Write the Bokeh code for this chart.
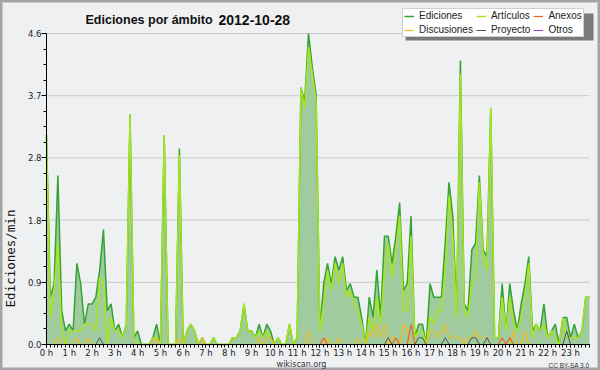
import math
from bokeh.plotting import figure
from bokeh.models import (FixedTicker, Legend, LegendItem, Label,
                          Range1d, ColumnDataSource)
from bokeh.embed import file_html
from bokeh.resources import INLINE

# ---------------- data (edits per minute, 10-minute bins) ----------------
STEP_MIN = 10
ediciones = [
    3.1, 0.7, 0.9, 2.5, 0.5, 0.2, 0.3, 0.2, 1.2, 0.9, 0.3, 0.6,
    0.6, 0.7, 1.1, 1.7, 0.5, 0.6, 0.2, 0.3, 0.1, 0.3, 3.4, 0.1,
    0.2, 0.0, 0.0, 0.0, 0.1, 0.3, 0.0, 3.1, 0.0, 0.0, 0.0, 2.9,
    0.0, 0.2, 0.3, 0.2, 0.0, 0.1, 0.0, 0.0, 0.1, 0.0, 0.0, 0.0,
    0.0, 0.1, 0.1, 0.2, 0.6, 0.2, 0.2, 0.1, 0.3, 0.1, 0.3, 0.2,
    0.0, 0.1, 0.0, 0.0, 0.3, 0.0, 0.1, 3.8, 3.6, 4.6, 4.1, 3.7,
    0.2, 0.9, 1.2, 0.9, 1.3, 1.1, 1.3, 0.8, 0.9, 0.7, 0.7, 0.4,
    0.0, 0.7, 0.4, 1.1, 0.4, 1.6, 1.6, 1.2, 1.6, 2.1, 0.8, 0.9,
    1.9, 0.1, 0.3, 0.3, 0.0, 0.9, 0.7, 0.7, 0.7, 1.5, 2.4, 1.9,
    0.5, 4.2, 0.6, 0.5, 1.4, 1.5, 2.5, 1.4, 1.3, 3.5, 0.1, 0.1,
    0.9, 0.2, 0.9, 0.5, 0.2, 0.6, 0.9, 1.3, 0.2, 0.3, 0.2, 0.6,
    0.1, 0.2, 0.3, 0.0, 0.4, 0.4, 0.1, 0.3, 0.1, 0.2, 0.7, 0.7,
]
articulos = [
    3.1, 0.4, 0.8, 1.5, 0.2, 0.0, 0.2, 0.2, 0.2, 0.2, 0.3, 0.3,
    0.3, 0.2, 1.0, 0.9, 0.0, 0.4, 0.2, 0.2, 0.1, 0.3, 3.4, 0.1,
    0.0, 0.0, 0.0, 0.0, 0.1, 0.1, 0.0, 3.1, 0.0, 0.0, 0.0, 2.8,
    0.0, 0.2, 0.3, 0.2, 0.0, 0.1, 0.0, 0.0, 0.1, 0.0, 0.0, 0.0,
    0.0, 0.1, 0.1, 0.2, 0.6, 0.2, 0.2, 0.1, 0.2, 0.1, 0.2, 0.1,
    0.0, 0.1, 0.0, 0.0, 0.3, 0.0, 0.1, 3.8, 3.5, 4.4, 4.0, 3.6,
    0.2, 0.6, 1.1, 0.8, 1.2, 0.9, 1.2, 0.7, 0.8, 0.6, 0.5, 0.3,
    0.0, 0.4, 0.2, 0.7, 0.3, 1.1, 1.5, 1.0, 1.4, 1.9, 0.5, 0.5,
    1.6, 0.1, 0.2, 0.2, 0.0, 0.4, 0.3, 0.5, 0.5, 1.1, 2.2, 1.6,
    0.4, 4.0, 0.5, 0.4, 0.9, 1.0, 2.4, 1.3, 1.1, 3.5, 0.1, 0.1,
    0.7, 0.2, 0.7, 0.3, 0.2, 0.4, 0.7, 1.2, 0.1, 0.3, 0.2, 0.3,
    0.1, 0.2, 0.1, 0.0, 0.4, 0.1, 0.1, 0.1, 0.1, 0.2, 0.7, 0.7,
]
discusiones = [
    0, 0, 0, 0.1, 0, 0, 0, 0, 0.1, 0, 0, 0.1,
    0, 0, 0, 0, 0, 0, 0, 0, 0, 0, 0, 0,
    0, 0, 0, 0, 0, 0.1, 0, 0, 0, 0, 0, 0.1,
    0, 0, 0, 0, 0, 0.1, 0, 0, 0, 0, 0, 0,
    0, 0, 0, 0, 0, 0, 0, 0, 0.1, 0, 0.1, 0.1,
    0, 0, 0, 0, 0, 0, 0, 0, 0, 0.2, 0, 0,
    0, 0, 0.1, 0, 0, 0.1, 0, 0, 0, 0, 0.1, 0,
    0, 0.2, 0.1, 0.3, 0.1, 0.3, 0, 0.1, 0.1, 0, 0.3, 0.2,
    0, 0, 0, 0, 0, 0.2, 0.2, 0.1, 0.2, 0.3, 0.1, 0.1,
    0.1, 0.1, 0, 0.1, 0.1, 0.2, 0.1, 0.1, 0.1, 0, 0, 0,
    0, 0, 0, 0.2, 0, 0, 0.2, 0, 0, 0, 0, 0,
    0, 0, 0, 0, 0, 0, 0, 0, 0, 0, 0, 0,
]
anexos = [
    0, 0, 0, 0, 0, 0, 0, 0, 0, 0, 0, 0,
    0, 0, 0, 0, 0, 0, 0, 0, 0, 0, 0, 0,
    0, 0, 0, 0, 0, 0, 0, 0, 0, 0, 0, 0,
    0, 0, 0, 0, 0, 0, 0, 0, 0, 0, 0, 0,
    0, 0, 0, 0, 0, 0, 0, 0, 0, 0, 0, 0,
    0, 0, 0, 0, 0, 0, 0, 0, 0, 0, 0, 0,
    0, 0.1, 0, 0, 0, 0, 0, 0, 0, 0, 0, 0,
    0, 0, 0, 0, 0, 0, 0, 0, 0.1, 0, 0, 0,
    0.3, 0, 0, 0, 0, 0, 0, 0, 0, 0, 0, 0,
    0, 0, 0, 0, 0, 0, 0, 0, 0, 0, 0, 0,
    0.1, 0, 0.1, 0, 0, 0, 0, 0, 0, 0, 0, 0,
    0, 0, 0, 0, 0, 0, 0, 0, 0, 0, 0, 0,
]
proyecto = [
    0, 0, 0, 0, 0, 0, 0, 0, 0, 0, 0, 0,
    0, 0, 0.1, 0, 0, 0, 0, 0, 0, 0, 0, 0,
    0, 0, 0, 0, 0, 0, 0, 0, 0, 0, 0, 0,
    0, 0, 0, 0, 0, 0, 0, 0, 0, 0, 0, 0,
    0, 0, 0, 0, 0, 0, 0, 0, 0, 0, 0, 0,
    0, 0, 0, 0, 0, 0, 0, 0, 0, 0, 0, 0,
    0, 0, 0, 0, 0, 0, 0, 0, 0, 0, 0, 0,
    0, 0, 0, 0, 0, 0, 0.1, 0, 0, 0, 0, 0,
    0, 0, 0.1, 0.1, 0, 0, 0, 0, 0, 0.1, 0, 0,
    0, 0, 0, 0, 0.1, 0.1, 0, 0, 0.1, 0, 0, 0,
    0, 0, 0, 0, 0, 0, 0, 0, 0, 0, 0, 0,
    0, 0, 0, 0, 0, 0.2, 0, 0, 0, 0, 0, 0,
]
otros = [0] * 144

hours = list(range(24))
hour_labels = [f"{h} h" for h in hours]
y_ticks = [0.0, 0.92, 1.84, 2.76, 3.68, 4.6]
y_tick_labels = ["0.0", "0.9", "1.8", "2.8", "3.7", "4.6"]

title_main = "Ediciones por ámbito"
title_date = "2012-10-28"

# ---------------- layout (canvas pixels) ----------------
W, H = 600, 370
PL, PR, PT, PB = 46, 589, 33, 344          # plotting area edges
BG = "#eff0f2"

x = [i * STEP_MIN / 60 for i in range(len(ediciones))]
XMAX = x[-1]
YMAX = y_ticks[-1]


def dx(px):
    return (px - PL) / (PR - PL) * XMAX


def dy(py):
    return (PB - py) / (PB - PT) * YMAX


p = figure(width=W, height=H, output_backend="svg", toolbar_location=None,
           x_range=Range1d(dx(0), dx(W)), y_range=Range1d(dy(H), dy(0)),
           min_border=0, min_border_left=0, min_border_right=0,
           min_border_top=0, min_border_bottom=0,
           background_fill_color=BG, border_fill_color=BG,
           outline_line_color="#a4a4a4", outline_line_width=4)

src = ColumnDataSource(dict(x=x, e=ediciones, a=articulos, d=discusiones,
                            anx=anexos, pr=proyecto, o=otros))

# horizontal grid lines at the y ticks, limited to the plotting area
p.segment(x0=0, x1=XMAX, y0=y_ticks[1:], y1=y_ticks[1:],
          line_color="#c9c9c9", line_width=1)

# legend drop shadow (drawn under the legend box)
p.quad(left=dx(405), right=dx(593), top=dy(13), bottom=dy(40),
       fill_color="#7a7a7a", line_color=None)

p.varea(x="x", y1=0, y2="e", source=src, fill_color="#9fcb9f")
r_e = p.line("x", "e", source=src, line_color="#33a333", line_width=1.5)
r_a = p.line("x", "a", source=src, line_color="#a8e61c", line_width=1.5)
r_o = p.line("x", "o", source=src, line_color="#9a40e0", line_width=1)
r_d = p.line("x", "d", source=src, line_color="#f0bc1c", line_width=1.2)
r_anx = p.line("x", "anx", source=src, line_color="#ee6622", line_width=1.2)
r_p = p.line("x", "pr", source=src, line_color="#505050", line_width=1)

# axes drawn at the data origin, taking no panel space
p.xaxis.fixed_location = 0
p.yaxis.fixed_location = 0
p.xaxis.bounds = (0, XMAX)
p.yaxis.bounds = (0, YMAX)
p.xaxis.ticker = FixedTicker(ticks=hours, minor_ticks=x)
p.xaxis.major_label_overrides = dict(zip(hours, hour_labels))
p.yaxis.ticker = FixedTicker(ticks=y_ticks,
                             minor_ticks=[k * YMAX / 20 for k in range(21)])
p.yaxis.major_label_overrides = dict(zip(y_ticks, y_tick_labels))
for ax in (p.xaxis, p.yaxis):
    ax.axis_line_color = "#000000"
    ax.major_tick_line_color = "#000000"
    ax.minor_tick_line_color = "#000000"
    ax.major_tick_in = 0
    ax.minor_tick_in = 0
    ax.major_label_text_font = "DejaVu Sans"
    ax.major_label_text_font_size = "8.5px"
    ax.major_label_text_color = "#222222"
    ax.major_label_standoff = 0
p.xaxis.major_tick_out = 3
p.xaxis.minor_tick_out = 3
p.yaxis.major_tick_out = 5
p.yaxis.minor_tick_out = 3
p.xgrid.visible = False
p.ygrid.visible = False

# title (two parts, separated by a double gap as in the original)
for txt, px, size in ((title_main, 85, "12.5px"), (title_date, 218, "14px")):
    p.add_layout(Label(x=dx(px), y=dy(19.5), text=txt,
                       text_align="left", text_baseline="alphabetic",
                       text_font="Liberation Sans", text_font_size=size,
                       text_font_style="bold", text_color="#111111"))
# y axis title
p.add_layout(Label(x=dx(9.5), y=dy(258), text="Ediciones/min", angle=math.pi / 2,
                   text_align="center", text_baseline="middle",
                   text_font="DejaVu Sans Mono", text_font_size="12.5px",
                   text_color="#111111"))
# footer
p.add_layout(Label(x=dx(301), y=dy(364), text="wikiscan.org",
                   text_align="center", text_baseline="alphabetic",
                   text_font="DejaVu Sans", text_font_size="8px",
                   text_color="#333333"))
p.add_layout(Label(x=dx(589), y=dy(365), text="CC BY-SA 3.0",
                   text_align="right", text_baseline="alphabetic",
                   text_font="Liberation Sans", text_font_size="6.5px",
                   text_color="#333333"))

legend = Legend(items=[
    LegendItem(label="Ediciones", renderers=[r_e]),
    LegendItem(label="Artículos", renderers=[r_a]),
    LegendItem(label="Anexos", renderers=[r_anx]),
    LegendItem(label="Discusiones", renderers=[r_d]),
    LegendItem(label="Proyecto", renderers=[r_p]),
    LegendItem(label="Otros", renderers=[r_o]),
], orientation="horizontal", ncols=3, location=(402, H - 37),
    margin=0, padding=1, spacing=3,
    glyph_width=10, glyph_height=10, label_height=10, label_standoff=5,
    label_text_font="Liberation Sans", label_text_font_size="10px",
    label_text_line_height=1.0,
    label_text_color="#222222",
    background_fill_color="#ffffff", background_fill_alpha=1.0,
    border_line_color="#a0a0a0", border_line_width=1)
p.add_layout(legend)

open("out.html", "w").write(file_html(p, INLINE))
